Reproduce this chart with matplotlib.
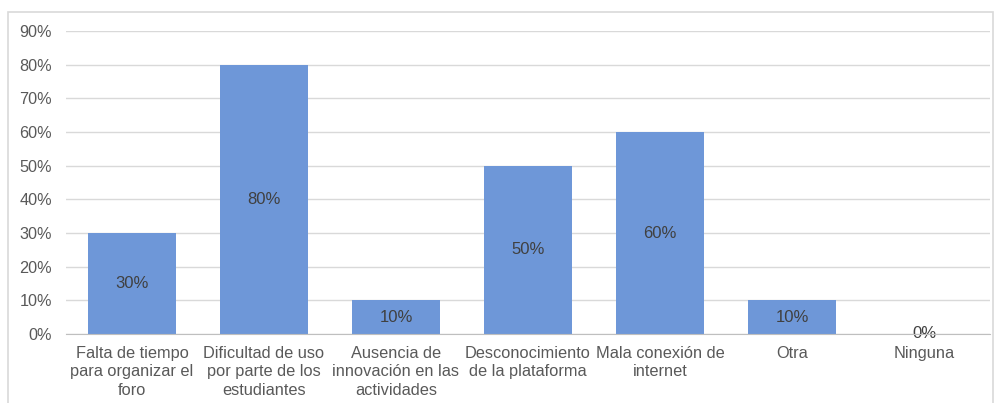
import matplotlib.pyplot as plt
from matplotlib.patches import Rectangle

plt.rcParams['font.family'] = ['Liberation Sans', 'DejaVu Sans']

categories = ['Falta de tiempo\npara organizar el\nforo',
              'Dificultad de uso\npor parte de los\nestudiantes',
              'Ausencia de\ninnovación en las\nactividades',
              'Desconocimiento\nde la plataforma',
              'Mala conexión de\ninternet',
              'Otra',
              'Ninguna']
values = [0.30, 0.80, 0.10, 0.50, 0.60, 0.10, 0.0]
yticks = [0, 0.1, 0.2, 0.3, 0.4, 0.5, 0.6, 0.7, 0.8, 0.9]

text_color = '#595959'
bar_color = '#6e97d8'

fig = plt.figure(figsize=(9.97, 4.03), dpi=100)
ax = fig.add_axes([66 / 997, 1 - 334 / 403, (990 - 66) / 997, (334 - 31) / 403])

# chart frame
fig.patches.append(Rectangle((8 / 997, -0.05), (993 - 8) / 997, 1.05 - 12 / 403,
                             transform=fig.transFigure, fill=False,
                             edgecolor='#d9d9d9', linewidth=1.2))

x = list(range(len(categories)))
ax.bar(x, values, width=0.667, color=bar_color, zorder=3)

for xi, v in zip(x, values):
    ax.text(xi, v / 2, f'{v:.0%}', ha='center', va='center',
            fontsize=12, color='#404040', zorder=4)

ax.set_xlim(-0.5, len(categories) - 0.5)
ax.set_ylim(0, 0.9)
ax.set_yticks(yticks)
ax.set_yticklabels([f'{t:.0%}' for t in yticks], fontsize=11.7)
ax.set_xticks(x)
ax.set_xticklabels(categories, linespacing=1.3, fontsize=11.8)
ax.tick_params(axis='both', length=0, labelcolor=text_color)
ax.tick_params(axis='y', pad=10)
ax.tick_params(axis='x', pad=8.5)
ax.grid(axis='y', color='#d9d9d9', linewidth=1, zorder=0)
for s in ['top', 'right', 'left']:
    ax.spines[s].set_visible(False)
ax.spines['bottom'].set_color('#bfbfbf')
ax.spines['bottom'].set_zorder(5)

fig.savefig('out.png', dpi=100)
